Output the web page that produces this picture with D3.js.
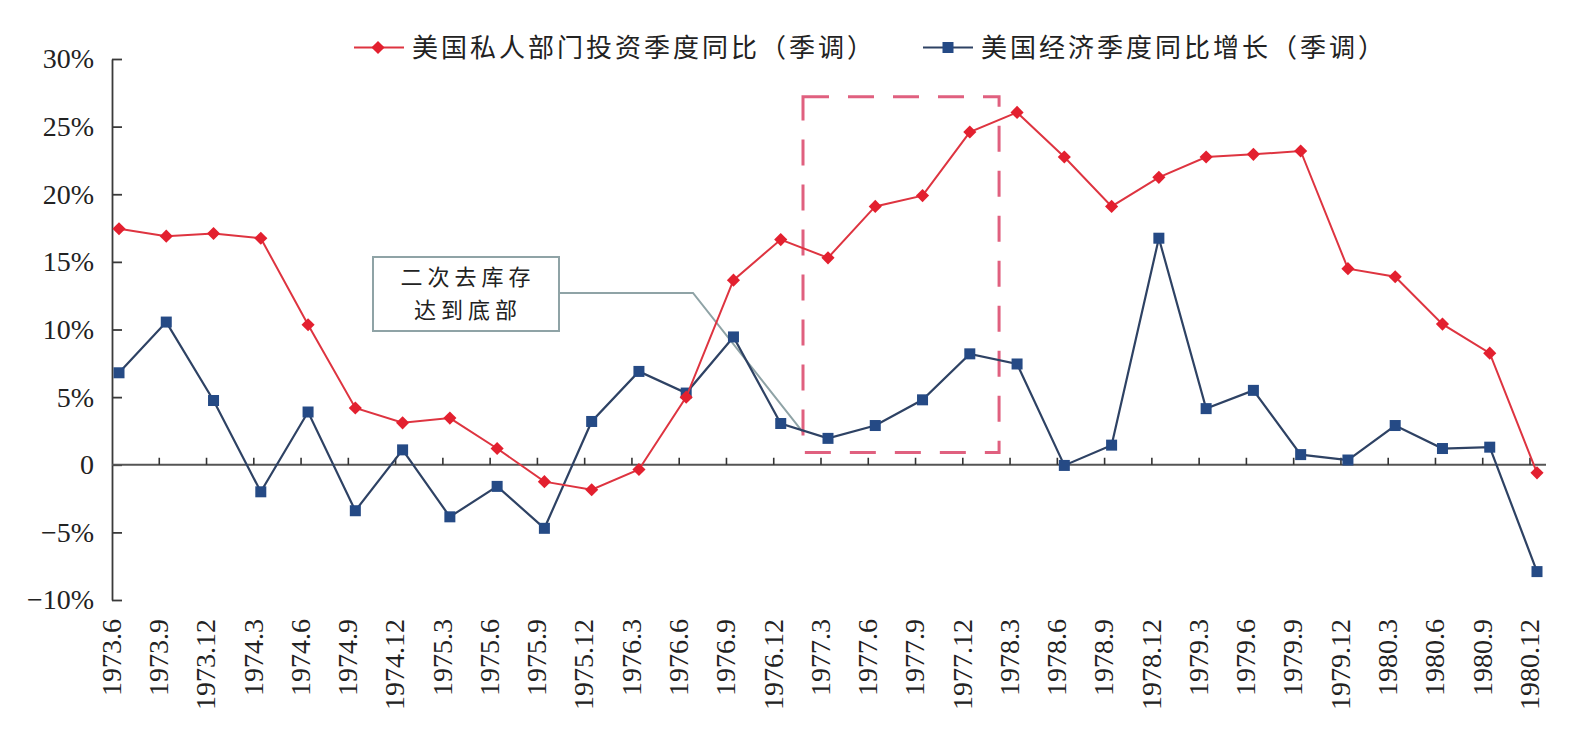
<!DOCTYPE html>
<html>
<head>
<meta charset="utf-8">
<script src="https://cdnjs.cloudflare.com/ajax/libs/d3/7.8.5/d3.min.js"></script>
<style>
  body { margin: 0; background: #fff; }
  svg { display: block; }
</style>
</head>
<body>
<div id="chart"></div>
<script>
var svgWidth = 1586;
var svgHeight = 742;

// quarters on the x axis
var quarters = ["1973.6", "1973.9", "1973.12", "1974.3", "1974.6", "1974.9", "1974.12",
  "1975.3", "1975.6", "1975.9", "1975.12", "1976.3", "1976.6", "1976.9", "1976.12",
  "1977.3", "1977.6", "1977.9", "1977.12", "1978.3", "1978.6", "1978.9", "1978.12",
  "1979.3", "1979.6", "1979.9", "1979.12", "1980.3", "1980.6", "1980.9", "1980.12"];

// 美国私人部门投资季度同比（季调）, %
var investment = [17.45, 16.9, 17.1, 16.75, 10.35, 4.2, 3.1, 3.45, 1.2, -1.25, -1.85,
  -0.35, 5.0, 13.65, 16.65, 15.3, 19.1, 19.9, 24.6, 26.05, 22.75, 19.1, 21.25,
  22.75, 22.95, 23.2, 14.5, 13.9, 10.4, 8.25, -0.6];

// 美国经济季度同比增长（季调）, %
var gdpGrowth = [6.8, 10.55, 4.75, -2.0, 3.9, -3.4, 1.1, -3.85, -1.6, -4.7, 3.2,
  6.9, 5.3, 9.45, 3.05, 1.95, 2.9, 4.8, 8.2, 7.45, -0.05, 1.45, 16.75,
  4.15, 5.5, 0.75, 0.35, 2.9, 1.2, 1.3, -7.9];

var yTicks = [-10, -5, 0, 5, 10, 15, 20, 25, 30];
var seriesNames = ["美国私人部门投资季度同比（季调）", "美国经济季度同比增长（季调）"];
var noteLines = ["二次去库存", "达到底部"];

var red = "#e3202f";
var redLine = "#de3440";
var blue = "#254a85";
var blueLine = "#2e4264";

var svg = d3.select("#chart")
  .append("svg")
  .attr("width", svgWidth)
  .attr("height", svgHeight);

svg.append("rect").attr("width", svgWidth).attr("height", svgHeight).attr("fill", "#fff");

var xScale = d3.scalePoint()
  .domain(quarters)
  .range([119, 1537]);

var yScale = d3.scaleLinear()
  .domain([-10, 30])
  .range([600, 59]);

var axisLeftX = 112;

// y axis: ticks point inward, labels on the left
var yAxis = d3.axisLeft(yScale)
  .tickValues(yTicks)
  .tickSizeInner(-10)
  .tickSizeOuter(0)
  .tickPadding(18)
  .tickFormat(function(v) {
    if (v === 0) return "0";
    return (v < 0 ? "\u2212" : "") + Math.abs(v) + "%";
  });

var gy = svg.append("g")
  .attr("transform", "translate(" + axisLeftX + ",0)")
  .call(yAxis);
gy.selectAll("path, line").attr("stroke", "#3a3a3a").attr("stroke-width", 1.8);
gy.selectAll("text")
  .attr("fill", "#222")
  .style("font-family", "'Liberation Serif', 'Times New Roman', serif")
  .style("font-size", "28px");

// x axis line at zero
var zeroY = yScale(0);
svg.append("line")
  .attr("x1", axisLeftX).attr("x2", 1546)
  .attr("y1", zeroY).attr("y2", zeroY)
  .attr("stroke", "#555").attr("stroke-width", 2);

// tick marks sit just before each following point
svg.append("g").selectAll("line")
  .data(quarters.slice(1))
  .enter().append("line")
  .attr("x1", d => xScale(d) - 7).attr("x2", d => xScale(d) - 7)
  .attr("y1", zeroY).attr("y2", zeroY - 7)
  .attr("stroke", "#333").attr("stroke-width", 1.6);

// rotated quarter labels
svg.append("g").selectAll("text")
  .data(quarters)
  .enter().append("text")
  .attr("transform", d => "translate(" + (xScale(d) - 8) + ",619) rotate(-90)")
  .attr("text-anchor", "end")
  .attr("dy", "0.35em")
  .attr("fill", "#222")
  .style("font-family", "'Liberation Serif', 'Times New Roman', serif")
  .style("font-size", "28px")
  .text(d => d);

// annotation leader (drawn under the series)
var ann = svg.append("g");
ann.append("polyline")
  .attr("points", [[559, 293], [693, 293], [xScale("1977.3") - 25, yScale(2.4)]].join(" "))
  .attr("fill", "none")
  .attr("stroke", "#8fa3a6")
  .attr("stroke-width", 2);

// dashed highlight rectangle
var rx0 = xScale("1977.3") - 25, rx1 = xScale("1978.3") - 18;
var ry0 = yScale(27.2), ry1 = yScale(0.9);
svg.append("rect")
  .attr("x", rx0).attr("y", ry0)
  .attr("width", rx1 - rx0).attr("height", ry1 - ry0)
  .attr("fill", "none")
  .attr("stroke", "#e0607f")
  .attr("stroke-width", 3)
  .attr("stroke-dasharray", "26 19");

var lineGenerator = d3.line()
  .x((d, i) => xScale(quarters[i]))
  .y(d => yScale(d));

// blue series
svg.append("path")
  .attr("fill", "none")
  .attr("stroke", blueLine)
  .attr("stroke-width", 2.2)
  .attr("d", lineGenerator(gdpGrowth));

svg.append("g").selectAll("rect")
  .data(gdpGrowth)
  .enter().append("rect")
  .attr("x", (d, i) => xScale(quarters[i]) - 5.5)
  .attr("y", d => yScale(d) - 5.5)
  .attr("width", 11).attr("height", 11)
  .attr("fill", blue);

// red series
svg.append("path")
  .attr("fill", "none")
  .attr("stroke", redLine)
  .attr("stroke-width", 2)
  .attr("d", lineGenerator(investment));

var diamond = d3.symbol().type(d3.symbolDiamond2).size(110);
svg.append("g").selectAll("path")
  .data(investment)
  .enter().append("path")
  .attr("transform", (d, i) => "translate(" + xScale(quarters[i]) + "," + yScale(d) + ")")
  .attr("d", diamond)
  .attr("fill", red);

// annotation box on top of lines
ann.append("rect")
  .attr("x", 373).attr("y", 257)
  .attr("width", 186).attr("height", 74)
  .attr("fill", "#fff")
  .attr("stroke", "#8fa3a6")
  .attr("stroke-width", 2);
svg.append("g").selectAll("text")
  .data(noteLines)
  .enter().append("text")
  .attr("x", 468)
  .attr("y", (d, i) => 277 + i * 33)
  .attr("dy", "0.35em")
  .attr("text-anchor", "middle")
  .attr("fill", "#222")
  .style("font-family", "'Noto Sans CJK SC', sans-serif")
  .style("font-size", "22px")
  .style("letter-spacing", "5px")
  .text(d => d);

// legend
var legend = svg.append("g");
var legendItems = [
  { name: seriesNames[0], x0: 354, color: redLine, mark: red, shape: "diamond" },
  { name: seriesNames[1], x0: 923, color: blueLine, mark: blue, shape: "square" }
];
legendItems.forEach(function(item) {
  var ly = 47.5;
  legend.append("line")
    .attr("x1", item.x0).attr("x2", item.x0 + 50)
    .attr("y1", ly).attr("y2", ly)
    .attr("stroke", item.color).attr("stroke-width", 2);
  if (item.shape === "diamond") {
    legend.append("path")
      .attr("transform", "translate(" + (item.x0 + 24) + "," + ly + ")")
      .attr("d", diamond)
      .attr("fill", item.mark);
  } else {
    legend.append("rect")
      .attr("x", item.x0 + 25 - 5.5).attr("y", ly - 5.5)
      .attr("width", 11).attr("height", 11)
      .attr("fill", item.mark);
  }
  legend.append("text")
    .attr("x", item.x0 + 58)
    .attr("y", ly)
    .attr("dy", "0.35em")
    .attr("fill", "#222")
    .style("font-family", "'Noto Sans CJK SC', sans-serif")
    .style("font-size", "26px")
    .style("letter-spacing", "3px")
    .text(item.name);
});
</script>
</body>
</html>
